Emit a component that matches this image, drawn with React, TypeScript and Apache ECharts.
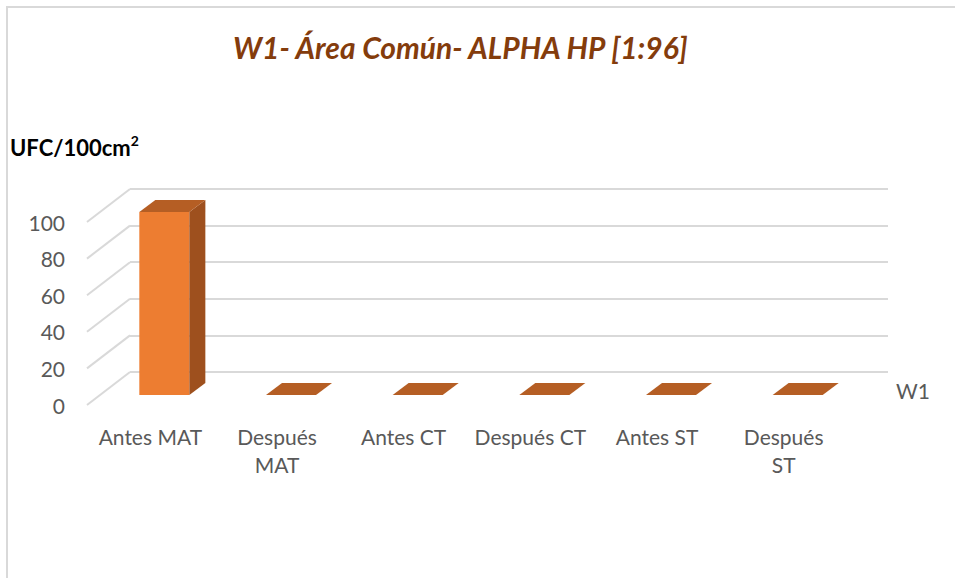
import React, { useEffect, useRef } from "react";
import * as echarts from "echarts";

const categories = ["Antes MAT", "Después MAT", "Antes CT", "Después CT", "Antes ST", "Después ST"];
const values = [100, 0, 0, 0, 0, 0];
const yTicks = [0, 20, 40, 60, 80, 100];
const wrapIdx = [1, 5];
const titleText = "W1- Área Común- ALPHA HP [1:96]";
const yName = "UFC/100cm";
const yNameSup = "2";
const seriesName = "W1";

const FONT = "Lato, 'Open Sans', sans-serif";
const DX = 43; // full depth offset x
const DY = -33; // full depth offset y

export default function App() {
  const ref = useRef<HTMLDivElement>(null);
  useEffect(() => {
    if (!ref.current) return;
    const chart = echarts.init(ref.current, null, { renderer: "svg" });
    const option: any = {
      animation: false,
      backgroundColor: "#ffffff",
      title: {
        text: titleText,
        left: 228,
        top: 27,
        textStyle: { fontFamily: FONT, fontSize: 30, fontWeight: "bold", fontStyle: "italic", color: "#843C0C" },
      },
      grid: [
        { left: 87, right: 108, top: 222, bottom: 173 },
        { left: 130, right: 67, top: 189, bottom: 206 },
      ],
      xAxis: [
        {
          type: "category",
          gridIndex: 0,
          data: categories,
          boundaryGap: true,
          axisLine: { show: false },
          axisTick: { show: false },
          axisLabel: {
            color: "#595959",
            fontFamily: FONT,
            fontSize: 21,
            margin: 17,
            lineHeight: 28,
            interval: 0,
            formatter: (v: string, i: number) => (wrapIdx.indexOf(i) >= 0 ? v.replace(" ", "\n") : v),
          },
        },
        {
          type: "category",
          gridIndex: 1,
          data: categories,
          show: false,
        },
      ],
      yAxis: [
        {
          type: "value",
          gridIndex: 0,
          min: 0,
          max: 100,
          interval: 20,
          axisLine: { show: false },
          axisTick: { show: false },
          splitLine: { show: false },
          axisLabel: { color: "#595959", fontFamily: FONT, fontSize: 21, margin: 22 },
        },
        {
          type: "value",
          gridIndex: 1,
          min: 0,
          max: 100,
          interval: 20,
          axisLine: { show: false },
          axisTick: { show: false },
          axisLabel: { show: false },
          splitLine: { show: true, lineStyle: { color: "#D9D9D9", width: 2 } },
        },
      ],
      graphic: [
        {
          type: "rect",
          shape: { x: 7, y: 7, width: 1200, height: 1200 },
          style: { fill: "none", stroke: "#D9D9D9", lineWidth: 2 },
          silent: true,
        },
        {
          type: "text",
          left: 10,
          top: 133,
          style: {
            text: "{a|" + yName + "}{b|" + yNameSup + "}",
            fontFamily: FONT,
            fill: "#000000",
            rich: {
              a: { fontFamily: FONT, fontSize: 22, fontWeight: "bold", fill: "#000000", lineHeight: 28 },
              b: { fontFamily: FONT, fontSize: 14, fontWeight: "bold", fill: "#000000", verticalAlign: "top", lineHeight: 14 },
            },
          },
        },
        {
          type: "text",
          left: 896,
          top: 380,
          style: { text: seriesName, fontFamily: FONT, fontSize: 21, fill: "#595959" },
        },
      ],
      series: [
        {
          type: "custom",
          name: "grid-diagonals",
          xAxisIndex: 0,
          yAxisIndex: 0,
          silent: true,
          z: 1,
          data: yTicks.map((v) => [0, v]),
          renderItem: (params: any, api: any) => {
            const y = api.coord([0, api.value(1)])[1];
            const x0 = params.coordSys.x;
            return {
              type: "line",
              shape: { x1: x0, y1: y, x2: x0 + DX, y2: y + DY },
              style: { stroke: "#D9D9D9", lineWidth: 2 },
            };
          },
        },
        {
          type: "custom",
          name: seriesName,
          xAxisIndex: 0,
          yAxisIndex: 0,
          z: 5,
          data: values.map((v, i) => [i, v]),
          renderItem: (params: any, api: any) => {
            const idx = api.value(0);
            const val = api.value(1);
            const base = api.coord([idx, 0]);
            const top = api.coord([idx, val]);
            const band = api.size([1, 0])[0];
            const w = band * 0.395;
            const sx = 14, sy = -10; // front face depth shift
            const dx = 16, dy = -12; // bar depth
            const cx = base[0] + sx;
            const xl = cx - w / 2;
            const xr = cx + w / 2;
            const yb = base[1] + sy;
            const yt = top[1] + sy;
            const children: any[] = [];
            if (yb - yt > 0.5) {
              children.push({
                type: "polygon",
                shape: { points: [[xl, yt], [xr, yt], [xr, yb], [xl, yb]] },
                style: { fill: "#ED7D31" },
              });
              children.push({
                type: "polygon",
                shape: { points: [[xr, yt], [xr + dx, yt + dy], [xr + dx, yb + dy], [xr, yb]] },
                style: { fill: "#9E501E" },
              });
            }
            children.push({
              type: "polygon",
              shape: { points: [[xl, yt], [xl + dx, yt + dy], [xr + dx, yt + dy], [xr, yt]] },
              style: { fill: "#B55E24" },
            });
            return { type: "group", children };
          },
        },
      ],
    };
    chart.setOption(option);
    return () => chart.dispose();
  }, []);
  return (
    <div
      ref={ref}
      style={{ position: "fixed", left: 0, top: 0, width: 955, height: 578, background: "#fff" }}
    />
  );
}
